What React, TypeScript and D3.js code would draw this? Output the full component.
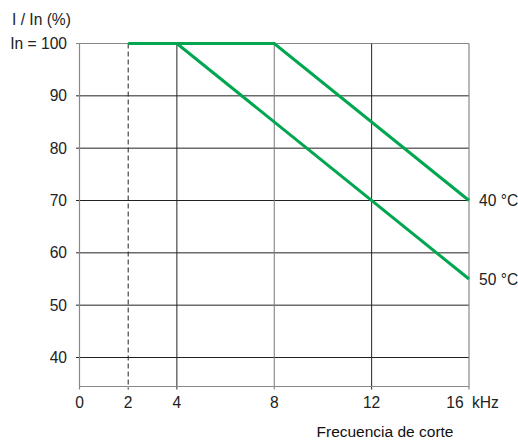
import React from "react";
import * as d3 from "d3";

const xTicks = [0, 2, 4, 8, 12, 16];
const yTicks = [40, 50, 60, 70, 80, 90, 100];
const curve40 = [
  { f: 2, v: 100 },
  { f: 8, v: 100 },
  { f: 16, v: 70 },
];
const curve50 = [
  { f: 4, v: 100 },
  { f: 16, v: 55 },
];
const seriesLabels = ["40 °C", "50 °C"];

export default function App() {
  const W = 518, H = 441;
  const x = d3.scaleLinear().domain([0, 16]).range([79.5, 469]);
  const y = d3.scaleLinear().domain([40, 100]).range([357.5, 43.5]);
  const yBottom = 386.5;
  const line = d3
    .line<{ f: number; v: number }>()
    .x((d) => x(d.f))
    .y((d) => y(d.v));
  const green = "#00a650";
  const font = "'Liberation Sans', Arial, sans-serif";
  const fs = 15.6;
  return (
    <svg width={W} height={H} style={{ position: "absolute", left: 0, top: 0 }} fontFamily={font}>
      <rect width={W} height={H} fill="#fff" />
      {yTicks.map((t) => (
        <line key={"h" + t} x1={76} x2={x(16)} y1={y(t)} y2={y(t)} stroke={t === 100 ? "#888" : "#222"} strokeWidth={1} />
      ))}
      {[4, 8, 12].map((t) => (
        <line key={"v" + t} x1={x(t)} x2={x(t)} y1={y(100)} y2={yBottom + 3} stroke={t === 8 ? "#777" : "#222"} strokeWidth={1} />
      ))}
      <line x1={x(2)} x2={x(2)} y1={y(100)} y2={yBottom + 3} stroke="#222" strokeWidth={1} strokeDasharray="5,3" />
      <line x1={x(0)} x2={x(0)} y1={y(100)} y2={yBottom + 3} stroke="#888" strokeWidth={1.2} />
      <line x1={x(16)} x2={x(16)} y1={y(100)} y2={yBottom + 3} stroke="#888" strokeWidth={1.2} />
      <line x1={x(0)} x2={x(16)} y1={yBottom} y2={yBottom} stroke="#888" strokeWidth={1.2} />
      <path d={line(curve40) || ""} fill="none" stroke={green} strokeWidth={3} />
      <path d={line(curve50) || ""} fill="none" stroke={green} strokeWidth={3} />
      {yTicks.map((t) => (
        <text key={"yl" + t} x={67} y={y(t) + 5.5} textAnchor="end" fontSize={fs} fill="#222">
          {t === 100 ? "In = 100" : t}
        </text>
      ))}
      <text x={12} y={25} fontSize={fs} fill="#222">I / In (%)</text>
      {xTicks.map((t) => (
        <text key={"xl" + t} x={t === 16 ? x(t) - 14 : x(t)} y={408} textAnchor="middle" fontSize={fs} fill="#222">
          {t}
        </text>
      ))}
      <text x={472} y={408} fontSize={fs} fill="#222">kHz</text>
      <text x={385} y={437} textAnchor="middle" fontSize={15.5} fill="#111">Frecuencia de corte</text>
      <text x={479} y={y(70) + 5.5} fontSize={fs} fill="#222">{seriesLabels[0]}</text>
      <text x={479} y={y(55) + 5.5} fontSize={fs} fill="#222">{seriesLabels[1]}</text>
    </svg>
  );
}
